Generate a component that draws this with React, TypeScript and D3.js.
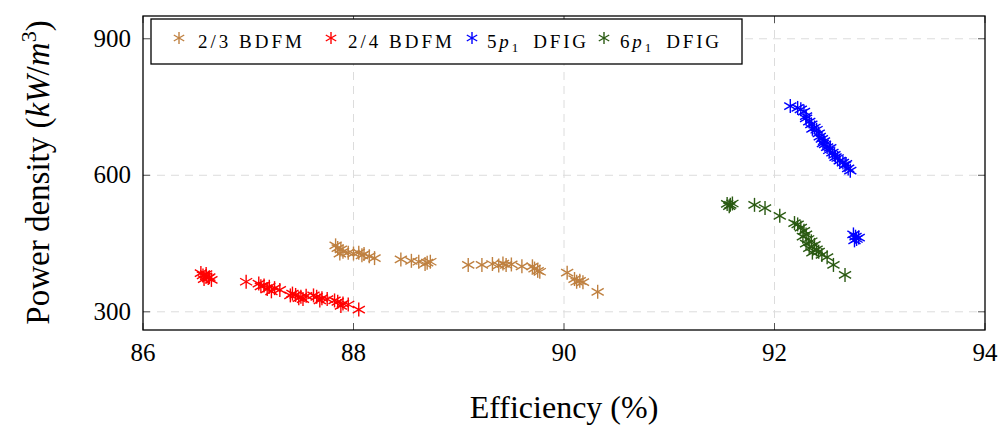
import React from "react";
import * as d3 from "d3";

// Efficiency (%) / power density (kW/m^3) design points per machine type
const bdfm23Eff = [87.83, 87.85, 87.88, 87.9, 87.87, 87.95, 88.0, 88.05, 88.1, 88.08, 88.15, 88.2, 88.45, 88.55, 88.62, 88.7, 88.73, 88.68, 89.09, 89.22, 89.32, 89.38, 89.42, 89.45, 89.5, 89.6, 89.7, 89.72, 89.75, 89.77, 90.03, 90.1, 90.15, 90.18, 90.12, 90.32];
const bdfm23Pd = [446, 440, 437, 432, 428, 430, 428, 430, 427, 424, 422, 418, 415, 412, 410, 408, 410, 405, 403, 403, 405, 402, 406, 403, 404, 400, 400, 395, 390, 388, 386, 372, 368, 365, 366, 344];

const bdfm24Eff = [86.55, 86.57, 86.6, 86.62, 86.58, 86.65, 86.6, 86.63, 86.98, 87.1, 87.15, 87.2, 87.25, 87.18, 87.3, 87.22, 87.12, 87.42, 87.45, 87.5, 87.48, 87.55, 87.52, 87.4, 87.65, 87.7, 87.68, 87.75, 87.62, 87.85, 87.9, 87.95, 87.88, 87.82, 88.05];
const bdfm24Pd = [385, 380, 378, 374, 372, 370, 383, 376, 366, 362, 358, 355, 352, 350, 348, 345, 356, 340, 337, 333, 330, 335, 328, 336, 333, 330, 325, 328, 336, 322, 318, 316, 313, 325, 305];

const dfig5Eff = [92.15, 92.22, 92.25, 92.28, 92.3, 92.33, 92.35, 92.38, 92.4, 92.42, 92.43, 92.45, 92.47, 92.48, 92.5, 92.52, 92.55, 92.57, 92.6, 92.62, 92.65, 92.67, 92.7, 92.72, 92.3, 92.36, 92.46, 92.53, 92.58, 92.68, 92.75, 92.77, 92.78, 92.76, 92.8];
const dfig5Pd = [752, 748, 745, 740, 730, 718, 712, 705, 700, 692, 685, 680, 675, 668, 662, 655, 650, 645, 638, 632, 628, 622, 615, 610, 725, 702, 670, 660, 640, 625, 470, 465, 460, 457, 463];

const dfig6Eff = [91.55, 91.58, 91.6, 91.57, 91.81, 91.91, 92.05, 92.19, 92.22, 92.25, 92.28, 92.3, 92.27, 92.32, 92.35, 92.3, 92.38, 92.33, 92.4, 92.36, 92.42, 92.45, 92.5, 92.56, 92.67];
const dfig6Pd = [537, 535, 538, 532, 535, 528, 511, 495, 492, 485, 478, 470, 465, 460, 455, 450, 447, 440, 437, 430, 432, 425, 420, 403, 381];

const xTicks = [86, 88, 90, 92, 94];
const yTicks = [300, 600, 900];

const seriesList = [
  { key: "bdfm23", eff: bdfm23Eff, pd: bdfm23Pd, color: "#bf8040" },
  { key: "bdfm24", eff: bdfm24Eff, pd: bdfm24Pd, color: "#ff0000" },
  { key: "dfig5", eff: dfig5Eff, pd: dfig5Pd, color: "#0000ff" },
  { key: "dfig6", eff: dfig6Eff, pd: dfig6Pd, color: "#2a5a12" },
];

const serifStyle = { fontFamily: '"Liberation Serif", "DejaVu Serif", "Times New Roman", serif' };

const Asterisk = ({ x, y, r, color }: { x: number; y: number; r: number; color: string }) => {
  const arms = [90, 30, 150].map((deg) => {
    const a = (deg * Math.PI) / 180;
    return { dx: r * Math.cos(a), dy: r * Math.sin(a) };
  });
  return (
    <g stroke={color} strokeWidth={1.4}>
      {arms.map((d, i) => (
        <line key={i} x1={x - d.dx} y1={y - d.dy} x2={x + d.dx} y2={y + d.dy} />
      ))}
    </g>
  );
};

export default function App() {
  const left = 143, right = 985, top = 16, bottom = 330;
  const x = d3.scaleLinear().domain([86, 94]).range([left, right]);
  const y = d3.scaleLinear().domain([260, 950]).range([bottom, top]);

  const legendItems = [
    { color: "#bf8040", sx: 179, tx: 198, ls: 3, content: <>2/3 BDFM</> },
    { color: "#ff0000", sx: 331, tx: 348, ls: 3, content: <>2/4 BDFM</> },
    {
      color: "#0000ff", sx: 472, tx: 487, ls: 2.8,
      content: (<>5<tspan fontStyle="italic">p</tspan><tspan fontSize={13} dy={4}>1</tspan><tspan dy={-4}>{"\u2002"}DFIG</tspan></>),
    },
    {
      color: "#2a5a12", sx: 604, tx: 620, ls: 2.8,
      content: (<>6<tspan fontStyle="italic">p</tspan><tspan fontSize={13} dy={4}>1</tspan><tspan dy={-4}>{"\u2002"}DFIG</tspan></>),
    },
  ];

  return (
    <svg width={1001} height={426} style={{ position: "absolute", left: 0, top: 0, ...serifStyle }}>
      <rect width={1001} height={426} fill="#fff" />
      {/* grid */}
      <g stroke="#dcdcdc" strokeWidth={1} strokeDasharray="8,6">
        {xTicks.slice(1, -1).map((t) => (
          <line key={t} x1={x(t)} x2={x(t)} y1={top} y2={bottom} />
        ))}
        {yTicks.map((t) => (
          <line key={t} x1={left} x2={right} y1={y(t)} y2={y(t)} />
        ))}
      </g>
      {/* tick marks on all four sides */}
      <g stroke="#555" strokeWidth={1}>
        {xTicks.map((t) => (
          <g key={t}>
            <line x1={x(t)} x2={x(t)} y1={bottom} y2={bottom - 7} />
            <line x1={x(t)} x2={x(t)} y1={top} y2={top + 7} />
          </g>
        ))}
        {yTicks.map((t) => (
          <g key={t}>
            <line x1={left} x2={left + 7} y1={y(t)} y2={y(t)} />
            <line x1={right} x2={right - 7} y1={y(t)} y2={y(t)} />
          </g>
        ))}
      </g>
      {/* data */}
      {seriesList.map((s) => (
        <g key={s.key}>
          {s.eff.map((e, i) => (
            <Asterisk key={i} x={x(e)} y={y(s.pd[i])} r={7} color={s.color} />
          ))}
        </g>
      ))}
      <rect x={left} y={top} width={right - left} height={bottom - top} fill="none" stroke="#000" strokeWidth={1.3} />
      {/* tick labels */}
      {xTicks.map((t) => (
        <text key={t} x={x(t)} y={bottom + 31} textAnchor="middle" fontSize={25} fill="#000" style={serifStyle}>{t}</text>
      ))}
      {yTicks.map((t) => (
        <text key={t} x={left - 12} y={y(t) + 8} textAnchor="end" fontSize={25} fill="#000" style={serifStyle}>{t}</text>
      ))}
      {/* axis titles */}
      <text x={(left + right) / 2} y={418} textAnchor="middle" fontSize={32} fill="#000" style={serifStyle}>Efficiency (%)</text>
      <text transform={`translate(49, ${(5 + 340) / 2}) rotate(-90)`} textAnchor="middle" fontSize={33} fill="#000" style={serifStyle}>
        Power density (<tspan fontStyle="italic">kW</tspan>/<tspan fontStyle="italic">m</tspan><tspan fontSize={22} dy={-13}>3</tspan><tspan dy={13}>)</tspan>
      </text>
      {/* legend */}
      <rect x={151} y={19} width={591} height={45} fill="#fff" stroke="#000" strokeWidth={1.3} />
      {legendItems.map((it, i) => (
        <g key={i}>
          <Asterisk x={it.sx} y={38} r={6} color={it.color} />
          <text x={it.tx} y={48} fontSize={19} fill="#000" letterSpacing={it.ls} style={serifStyle}>{it.content}</text>
        </g>
      ))}
    </svg>
  );
}
